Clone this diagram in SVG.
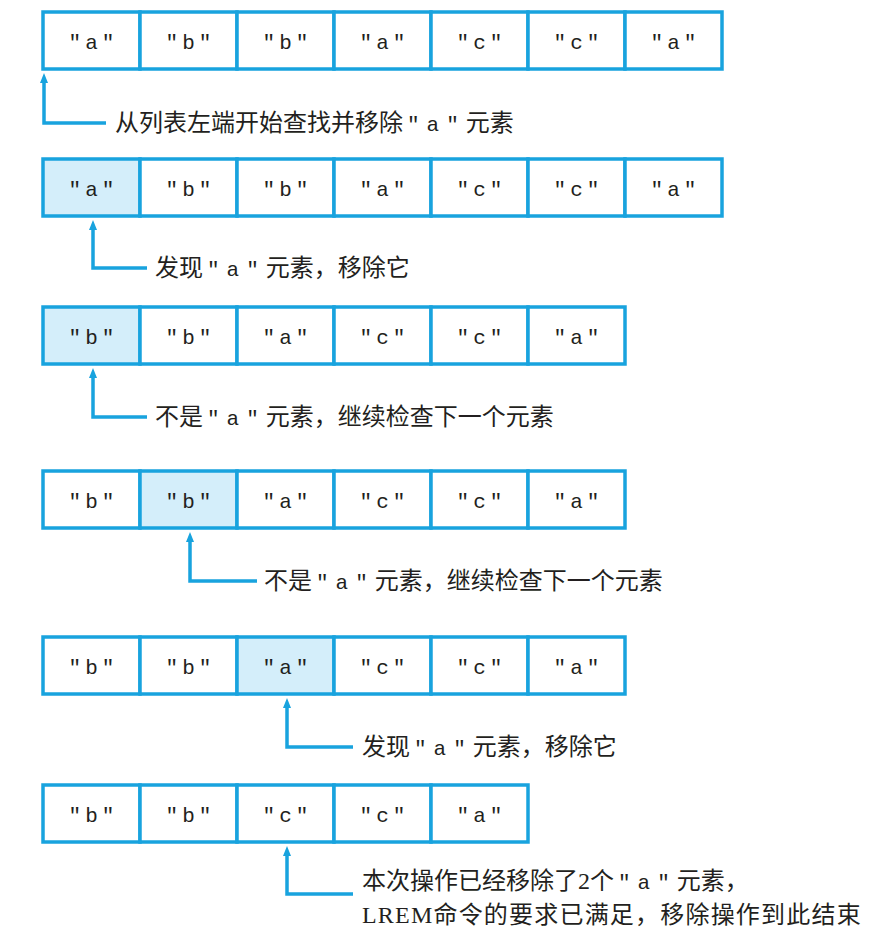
<svg xmlns="http://www.w3.org/2000/svg" width="876" height="931" viewBox="0 0 876 931">
<style>
.cell{fill:#ffffff;stroke:#18a3de;stroke-width:3.5}
.hl{fill:#d4eefa}
.ct{font-family:"Liberation Mono",monospace;font-size:21px;fill:#231f20;text-anchor:middle;letter-spacing:4px}
.lbl{font-family:"Liberation Serif","Noto Sans CJK SC",serif;font-size:24px;fill:#231f20}
.mono{font-family:"Liberation Mono",monospace;font-size:21px;letter-spacing:7px}
.conn{fill:none;stroke:#18a3de;stroke-width:3.5}
</style>
<defs>
<marker id="ah" viewBox="0 0 10 8" refX="0" refY="4" markerWidth="10" markerHeight="8" markerUnits="userSpaceOnUse" orient="auto">
<path d="M0,0 L10,4 L0,8 z" fill="#18a3de"/>
</marker>
</defs>

<g id="list1">
<g id="l1c1"><rect class="cell" x="43" y="12" width="97" height="57"/><text class="ct" x="93.5" y="49">"a"</text></g>
<g id="l1c2"><rect class="cell" x="140" y="12" width="97" height="57"/><text class="ct" x="190.5" y="49">"b"</text></g>
<g id="l1c3"><rect class="cell" x="237" y="12" width="97" height="57"/><text class="ct" x="287.5" y="49">"b"</text></g>
<g id="l1c4"><rect class="cell" x="334" y="12" width="97" height="57"/><text class="ct" x="384.5" y="49">"a"</text></g>
<g id="l1c5"><rect class="cell" x="431" y="12" width="97" height="57"/><text class="ct" x="481.5" y="49">"c"</text></g>
<g id="l1c6"><rect class="cell" x="528" y="12" width="97" height="57"/><text class="ct" x="578.5" y="49">"c"</text></g>
<g id="l1c7"><rect class="cell" x="625" y="12" width="97" height="57"/><text class="ct" x="675.5" y="49">"a"</text></g>
</g>

<g id="list2">
<g id="l2c1"><rect class="cell hl" x="43" y="159" width="97" height="57"/><text class="ct" x="93.5" y="196">"a"</text></g>
<g id="l2c2"><rect class="cell" x="140" y="159" width="97" height="57"/><text class="ct" x="190.5" y="196">"b"</text></g>
<g id="l2c3"><rect class="cell" x="237" y="159" width="97" height="57"/><text class="ct" x="287.5" y="196">"b"</text></g>
<g id="l2c4"><rect class="cell" x="334" y="159" width="97" height="57"/><text class="ct" x="384.5" y="196">"a"</text></g>
<g id="l2c5"><rect class="cell" x="431" y="159" width="97" height="57"/><text class="ct" x="481.5" y="196">"c"</text></g>
<g id="l2c6"><rect class="cell" x="528" y="159" width="97" height="57"/><text class="ct" x="578.5" y="196">"c"</text></g>
<g id="l2c7"><rect class="cell" x="625" y="159" width="97" height="57"/><text class="ct" x="675.5" y="196">"a"</text></g>
</g>

<g id="list3">
<g id="l3c1"><rect class="cell hl" x="43" y="307" width="97" height="57"/><text class="ct" x="93.5" y="344">"b"</text></g>
<g id="l3c2"><rect class="cell" x="140" y="307" width="97" height="57"/><text class="ct" x="190.5" y="344">"b"</text></g>
<g id="l3c3"><rect class="cell" x="237" y="307" width="97" height="57"/><text class="ct" x="287.5" y="344">"a"</text></g>
<g id="l3c4"><rect class="cell" x="334" y="307" width="97" height="57"/><text class="ct" x="384.5" y="344">"c"</text></g>
<g id="l3c5"><rect class="cell" x="431" y="307" width="97" height="57"/><text class="ct" x="481.5" y="344">"c"</text></g>
<g id="l3c6"><rect class="cell" x="528" y="307" width="97" height="57"/><text class="ct" x="578.5" y="344">"a"</text></g>
</g>

<g id="list4">
<g id="l4c1"><rect class="cell" x="43" y="471" width="97" height="57"/><text class="ct" x="93.5" y="508">"b"</text></g>
<g id="l4c2"><rect class="cell hl" x="140" y="471" width="97" height="57"/><text class="ct" x="190.5" y="508">"b"</text></g>
<g id="l4c3"><rect class="cell" x="237" y="471" width="97" height="57"/><text class="ct" x="287.5" y="508">"a"</text></g>
<g id="l4c4"><rect class="cell" x="334" y="471" width="97" height="57"/><text class="ct" x="384.5" y="508">"c"</text></g>
<g id="l4c5"><rect class="cell" x="431" y="471" width="97" height="57"/><text class="ct" x="481.5" y="508">"c"</text></g>
<g id="l4c6"><rect class="cell" x="528" y="471" width="97" height="57"/><text class="ct" x="578.5" y="508">"a"</text></g>
</g>

<g id="list5">
<g id="l5c1"><rect class="cell" x="43" y="637" width="97" height="57"/><text class="ct" x="93.5" y="674">"b"</text></g>
<g id="l5c2"><rect class="cell" x="140" y="637" width="97" height="57"/><text class="ct" x="190.5" y="674">"b"</text></g>
<g id="l5c3"><rect class="cell hl" x="237" y="637" width="97" height="57"/><text class="ct" x="287.5" y="674">"a"</text></g>
<g id="l5c4"><rect class="cell" x="334" y="637" width="97" height="57"/><text class="ct" x="384.5" y="674">"c"</text></g>
<g id="l5c5"><rect class="cell" x="431" y="637" width="97" height="57"/><text class="ct" x="481.5" y="674">"c"</text></g>
<g id="l5c6"><rect class="cell" x="528" y="637" width="97" height="57"/><text class="ct" x="578.5" y="674">"a"</text></g>
</g>

<g id="list6">
<g id="l6c1"><rect class="cell" x="43" y="785" width="97" height="57"/><text class="ct" x="93.5" y="822">"b"</text></g>
<g id="l6c2"><rect class="cell" x="140" y="785" width="97" height="57"/><text class="ct" x="190.5" y="822">"b"</text></g>
<g id="l6c3"><rect class="cell" x="237" y="785" width="97" height="57"/><text class="ct" x="287.5" y="822">"c"</text></g>
<g id="l6c4"><rect class="cell" x="334" y="785" width="97" height="57"/><text class="ct" x="384.5" y="822">"c"</text></g>
<g id="l6c5"><rect class="cell" x="431" y="785" width="97" height="57"/><text class="ct" x="481.5" y="822">"a"</text></g>
</g>

<g id="connectors">
<path class="conn" marker-end="url(#ah)" d="M106,123 H44 V83"/>
<path class="conn" marker-end="url(#ah)" d="M147,268 H93 V230"/>
<path class="conn" marker-end="url(#ah)" d="M147,417 H93 V378"/>
<path class="conn" marker-end="url(#ah)" d="M257,581 H190 V542"/>
<path class="conn" marker-end="url(#ah)" d="M353,747 H287 V708"/>
<path class="conn" marker-end="url(#ah)" d="M353,894 H287 V856"/>
</g>

<g id="label1"><text class="lbl" x="115" y="131">从列表左端开始查找并移除<tspan class="mono" dx="4">"a"</tspan>元素</text></g>
<g id="label2"><text class="lbl" x="155" y="276">发现<tspan class="mono" dx="4">"a"</tspan>元素，移除它</text></g>
<g id="label3"><text class="lbl" x="155" y="425">不是<tspan class="mono" dx="4">"a"</tspan>元素，继续检查下一个元素</text></g>
<g id="label4"><text class="lbl" x="264" y="589">不是<tspan class="mono" dx="4">"a"</tspan>元素，继续检查下一个元素</text></g>
<g id="label5"><text class="lbl" x="362" y="755">发现<tspan class="mono" dx="4">"a"</tspan>元素，移除它</text></g>
<g id="label6"><text class="lbl" x="362" y="889">本次操作已经移除了2个<tspan class="mono" dx="4">"a"</tspan>元素，<tspan x="362" y="923" letter-spacing="1.2">LREM命令的要求已满足，移除操作到此结束</tspan></text></g>
</svg>
